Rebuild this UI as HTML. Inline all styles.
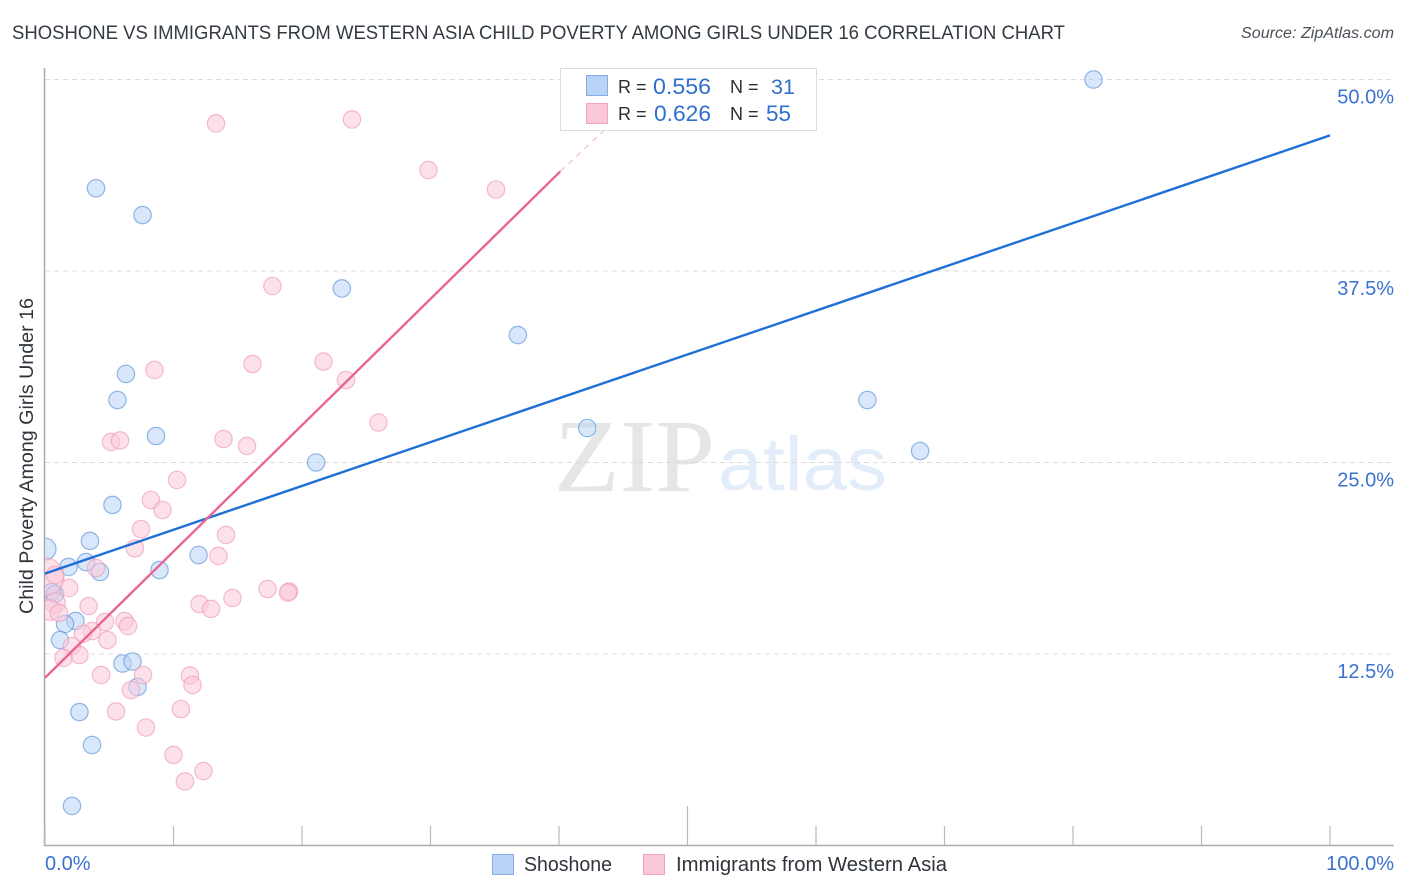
<!DOCTYPE html>
<html lang="en">
<head>
<meta charset="utf-8">
<title>Shoshone vs Immigrants from Western Asia Child Poverty Correlation Chart</title>
<style>
html,body{margin:0;padding:0;background:#fff;}
svg{display:block;font-family:"Liberation Sans",sans-serif;}
</style>
</head>
<body>
<svg id="chart" xmlns="http://www.w3.org/2000/svg" width="1406" height="892" viewBox="0 0 1406 892">
  <defs>
    <clipPath id="plot-clip"><rect x="45" y="60" width="1349" height="786"/></clipPath>
  </defs>
  <rect x="0" y="0" width="1406" height="892" fill="#ffffff"/>
  <text x="12" y="39" font-size="19.5" fill="#333a41" textLength="1053" lengthAdjust="spacingAndGlyphs">SHOSHONE VS IMMIGRANTS FROM WESTERN ASIA CHILD POVERTY AMONG GIRLS UNDER 16 CORRELATION CHART</text>
  <text x="1241" y="38" font-size="15.5" font-style="italic" fill="#4a5057" textLength="153" lengthAdjust="spacingAndGlyphs">Source: ZipAtlas.com</text>
  <g>
    <text x="554" y="491" font-family="'Liberation Serif',serif" font-size="104" fill="#e6e6e6" textLength="161" lengthAdjust="spacingAndGlyphs">ZIP</text>
    <text x="718" y="490" font-size="76" fill="#e3ecf9" textLength="169" lengthAdjust="spacingAndGlyphs">atlas</text>
  </g>
  <g id="grid"></g>
  <g id="axes"></g>
  <g id="points" clip-path="url(#plot-clip)"></g>
  <g id="trends"></g>
  <text transform="translate(33,456) rotate(-90)" font-size="19.5" fill="#2f353b" text-anchor="middle" textLength="316" lengthAdjust="spacingAndGlyphs">Child Poverty Among Girls Under 16</text>
  <g>
    <rect x="560.5" y="68.5" width="256" height="62" fill="#ffffff" stroke="#dddddd" stroke-width="1"/>
    <rect x="586.5" y="75.5" width="21" height="20" fill="#b9d3f6" stroke="#85aee3" stroke-width="1"/>
    <rect x="586.5" y="103.5" width="21" height="20" fill="#fbc8d9" stroke="#f2a3bd" stroke-width="1"/>
    <text x="618" y="93" font-size="18" fill="#2b3036">R =</text>
    <text x="653" y="94" font-size="22" fill="#2f6fd0" textLength="58" lengthAdjust="spacingAndGlyphs">0.556</text>
    <text x="730" y="93" font-size="18" fill="#2b3036">N =</text>
    <text x="771" y="94" font-size="21.5" fill="#2f6fd0">31</text>
    <text x="618" y="120" font-size="18" fill="#2b3036">R =</text>
    <text x="654" y="121" font-size="22" fill="#2f6fd0" textLength="57" lengthAdjust="spacingAndGlyphs">0.626</text>
    <text x="730" y="120" font-size="18" fill="#2b3036">N =</text>
    <text x="766" y="121" font-size="22" fill="#2f6fd0" textLength="25" lengthAdjust="spacingAndGlyphs">55</text>
  </g>
  <g>
    <rect x="492.5" y="854.5" width="21" height="20" fill="#b9d3f6" stroke="#85aee3" stroke-width="1"/>
    <text x="524" y="871" font-size="20" fill="#2f353b" textLength="88" lengthAdjust="spacingAndGlyphs">Shoshone</text>
    <rect x="643.5" y="854.5" width="21" height="20" fill="#fbc8d9" stroke="#f2a3bd" stroke-width="1"/>
    <text x="676" y="871" font-size="20" fill="#2f353b" textLength="271" lengthAdjust="spacingAndGlyphs">Immigrants from Western Asia</text>
  </g>
</svg>
<script>
var shoshoneX = [81.6,3.97,7.59,23.1,36.8,6.3,5.64,64.0,8.64,42.2,21.1,68.1,5.25,3.5,0,11.95,3.19,4.28,8.91,1.83,0.54,0.78,2.37,1.56,1.17,6.03,6.81,7.2,2.68,3.66,2.1];
var shoshoneY = [50.0,42.9,41.15,36.36,33.32,30.78,29.08,29.08,26.73,27.25,25.0,25.75,22.23,19.88,19.35,18.96,18.5,17.85,17.98,18.18,16.55,16.42,14.65,14.46,13.41,11.88,12.01,10.35,8.71,6.56,2.58];
var shoshoneWeight = [1,1,1,1,1,1,1,1,1,1,1,1,1,1,1.6,1,1,1,1,1,1,1,1,1,1,1,1,1,1,1,1];
var immigrantsX = [13.31,23.89,29.84,35.1,17.7,21.67,16.15,8.52,23.42,25.95,13.89,15.72,5.14,5.84,10.27,8.25,9.14,7.47,14.09,7.0,13.5,3.97,0,1.87,0.78,17.32,18.99,18.91,14.59,12.02,12.92,3.39,0.78,0.39,1.09,4.67,6.19,6.46,3.66,2.96,4.86,2.1,2.68,1.44,4.36,7.63,11.28,11.48,6.69,5.53,10.58,7.86,10.0,12.33,10.89];
var immigrantsY = [47.13,47.39,44.09,42.82,36.52,31.59,31.43,31.04,30.38,27.61,26.53,26.08,26.34,26.44,23.86,22.55,21.9,20.66,20.27,19.39,18.9,18.11,17.53,16.81,17.66,16.74,16.58,16.51,16.16,15.76,15.44,15.63,15.83,15.37,15.18,14.59,14.65,14.33,14.0,13.82,13.41,13.02,12.43,12.24,11.13,11.13,11.1,10.48,10.15,8.75,8.91,7.7,5.91,4.86,4.18];
var immigrantsWeight = [1,1,1,1,1,1,1,1,1,1,1,1,1,1,1,1,1,1,1,1,1,1,4.8,1,1,1,1,1,1,1,1,1,1.4,1.4,1,1,1,1,1,1,1,1,1,1,1,1,1,1,1,1,1,1,1,1,1];
var shoshoneTrendX = [0,100];
var shoshoneTrendY = [17.75,46.35];
var immigrantsTrendX = [0,40.1];
var immigrantsTrendY = [10.95,44.0];
var immigrantsTrendExtX = [40.1,43.8];
var immigrantsTrendExtY = [44.0,46.9];
var yTickValues = [12.5,25,37.5,50];
var yTickLabels = ['12.5%','25.0%','37.5%','50.0%'];
var xTickValues = [0,10,20,30,40,50,60,70,80,90,100];
var xEndLabels = ['0.0%','100.0%'];

var NS = 'http://www.w3.org/2000/svg';
function sx(v){ return 45 + v * 12.85; }
function sy(v){ return 845.5 - v * 15.32; }
function make(tag, attrs, parent){
  var el = document.createElementNS(NS, tag);
  for (var k in attrs) { el.setAttribute(k, attrs[k]); }
  parent.appendChild(el);
  return el;
}
var grid = document.getElementById('grid');
var axes = document.getElementById('axes');
var pts = document.getElementById('points');
var trends = document.getElementById('trends');

yTickValues.forEach(function(v, i){
  var g = make('line', {x1:45, x2:1394, y1:sy(v), y2:sy(v), stroke:'#dcdcdc', 'stroke-width':1, 'stroke-dasharray':'5 4'}, grid);
  
  
  var t = make('text', {x:1394, y:sy(v)+24, 'font-size':20, fill:'#3b72cf', 'text-anchor':'end'}, axes);
  t.textContent = yTickLabels[i];
  
  
});

var yAxis = make('line', {x1:44.5, x2:44.5, y1:68, y2:846, stroke:'#aaaaaa', 'stroke-width':1.5}, axes);


var xAxis = make('line', {x1:44, x2:1394, y1:845.5, y2:845.5, stroke:'#aaaaaa', 'stroke-width':1.5}, axes);



xTickValues.forEach(function(v){
  var top = (v === 50) ? 806 : 826;
  var tk = make('line', {x1:sx(v), x2:sx(v), y1:top, y2:845.5, stroke:'#bbbbbb', 'stroke-width':1.2}, axes);
  
  
});

var xl0 = make('text', {x:45, y:870, 'font-size':20, fill:'#3b72cf'}, axes);
xl0.textContent = xEndLabels[0];


var xl1 = make('text', {x:1394, y:870, 'font-size':20, fill:'#3b72cf', 'text-anchor':'end'}, axes);
xl1.textContent = xEndLabels[1];



shoshoneX.forEach(function(v, i){
  var c = make('circle', {cx:sx(v), cy:sy(shoshoneY[i]), r:8.7*Math.sqrt(shoshoneWeight[i]), fill:'#b9d3f6', 'fill-opacity':0.55, stroke:'#5b93da', 'stroke-opacity':0.65, 'stroke-width':1.2}, pts);
  
  
});
immigrantsX.forEach(function(v, i){
  var c = make('circle', {cx:sx(v), cy:sy(immigrantsY[i]), r:8.7*Math.sqrt(immigrantsWeight[i]), fill:'#fbc8d9', 'fill-opacity':0.55, stroke:'#ee9ab8', 'stroke-opacity':0.65, 'stroke-width':1.2}, pts);
  
  
});

var t1 = make('line', {x1:sx(shoshoneTrendX[0]), y1:sy(shoshoneTrendY[0]), x2:sx(shoshoneTrendX[1]), y2:sy(shoshoneTrendY[1]), stroke:'#1f6fd8', 'stroke-width':2.4}, trends);


var t2 = make('line', {x1:sx(immigrantsTrendX[0]), y1:sy(immigrantsTrendY[0]), x2:sx(immigrantsTrendX[1]), y2:sy(immigrantsTrendY[1]), stroke:'#e8668f', 'stroke-width':2.4}, trends);


var t3 = make('line', {x1:sx(immigrantsTrendExtX[0]), y1:sy(immigrantsTrendExtY[0]), x2:sx(immigrantsTrendExtX[1]), y2:sy(immigrantsTrendExtY[1]), stroke:'#eeb0c6', 'stroke-width':1, 'stroke-dasharray':'6 5'}, trends);


</script>
</body>
</html>
